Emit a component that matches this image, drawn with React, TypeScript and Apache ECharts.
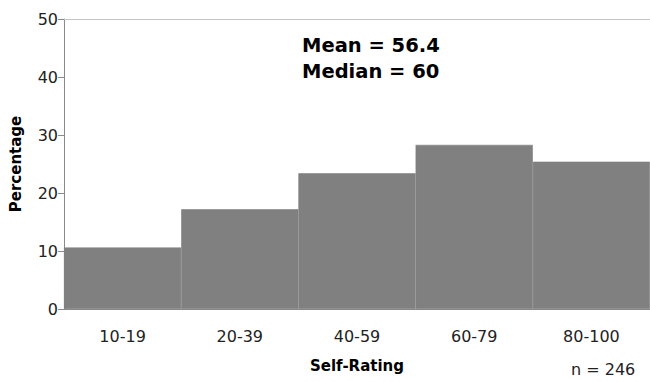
import React, { useEffect, useRef } from "react";
import * as echarts from "echarts";

const categories = ["10-19", "20-39", "40-59", "60-79", "80-100"];
const percentages = [10.6, 17.2, 23.4, 28.3, 25.4];
const yTicks = { min: 0, max: 50, interval: 10 };
const statsLines = ["Mean = 56.4", "Median = 60"];
const sampleNote = "n = 246";

const FONT = "DejaVu Sans, Verdana, sans-serif";

export default function App() {
  const ref = useRef<HTMLDivElement>(null);

  useEffect(() => {
    if (!ref.current) return;
    const chart = echarts.init(ref.current, undefined, { renderer: "svg" });
    chart.setOption({
      animation: false,
      backgroundColor: "#ffffff",
      textStyle: { fontFamily: FONT },
      // the last bin runs slightly past the right edge of the canvas
      grid: { left: 64, right: -3, top: 19, bottom: 73 },
      xAxis: [
        {
          type: "category",
          data: categories,
          boundaryGap: true,
          name: "Self-Rating",
          nameLocation: "middle",
          nameGap: 49,
          nameTextStyle: { fontFamily: FONT, fontSize: 15, fontWeight: "bold", color: "#000" },
          axisLine: { lineStyle: { color: "#8a8a8a", width: 1 } },
          axisTick: { alignWithLabel: false, length: 6, lineStyle: { color: "#8a8a8a" } },
          axisLabel: { fontFamily: FONT, fontSize: 16, color: "#222", margin: 19 },
        },
        {
          type: "category",
          data: categories,
          position: "top",
          axisLine: { show: true, lineStyle: { color: "#c4c4c4", width: 1 } },
          axisTick: { show: false },
          axisLabel: { show: false },
        },
      ],
      yAxis: {
        type: "value",
        min: yTicks.min,
        max: yTicks.max,
        interval: yTicks.interval,
        name: "Percentage",
        nameLocation: "middle",
        nameGap: 41,
        nameTextStyle: { fontFamily: FONT, fontSize: 15, fontWeight: "bold", color: "#000" },
        axisLine: { show: true, lineStyle: { color: "#8a8a8a", width: 1 } },
        axisTick: { show: true, length: 6, lineStyle: { color: "#8a8a8a" } },
        axisLabel: { fontFamily: FONT, fontSize: 16, color: "#222", margin: 6 },
        splitLine: { show: false },
      },
      series: [
        {
          type: "bar",
          xAxisIndex: 0,
          data: percentages,
          barCategoryGap: "0%",
          // same-colour outline hides the hairline seams between adjacent bins
          itemStyle: { color: "#808080", borderColor: "#808080", borderWidth: 0.6 },
        },
      ],
      graphic: [
        {
          type: "text",
          left: 302,
          top: 32,
          style: {
            text: statsLines.join("\n"),
            fontFamily: FONT,
            fontSize: 19.5,
            fontWeight: "bold",
            lineHeight: 26,
            fill: "#000",
          },
        },
        {
          type: "text",
          left: 571,
          top: 361,
          style: { text: sampleNote, fontFamily: FONT, fontSize: 16, fill: "#222" },
        },
      ],
    });
    return () => chart.dispose();
  }, []);

  return (
    <div
      ref={ref}
      style={{ position: "fixed", left: 0, top: 0, width: 650, height: 382 }}
    />
  );
}
